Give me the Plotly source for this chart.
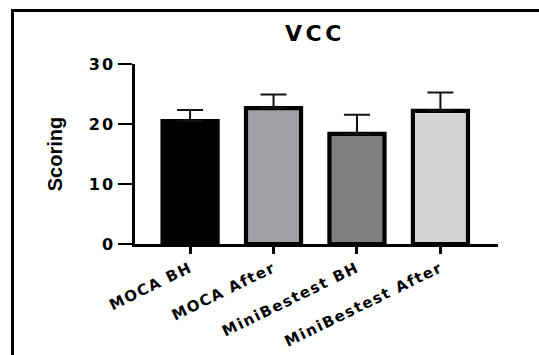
import plotly.graph_objects as go

categories = ["MOCA BH", "MOCA After", "MiniBestest BH", "MiniBestest After"]
means = [20.5, 22.65, 18.35, 22.2]
errors_up = [1.85, 2.25, 3.2, 3.05]
bar_colors = ["#000000", "#A0A0A4", "#808080", "#D4D4D4"]
y_ticks = [0, 10, 20, 30]

W, H = 539, 355
L, R, T, B = 135, 41, 64, 111
pw, ph = W - L - R, H - T - B

def px_x(px):
    return (px - L) / pw

def px_y(py):
    return (H - B - py) / ph

def spaced(s, sp):
    return f'<span style="letter-spacing:{sp}px">{s}</span>'

fig = go.Figure()
fig.add_trace(go.Bar(
    x=list(range(len(categories))),
    y=means,
    width=0.66,
    marker=dict(color=bar_colors, line=dict(color="#000000", width=4.2)),
    error_y=dict(type="data", symmetric=False, array=errors_up,
                 arrayminus=[0] * len(means), color="#111111",
                 thickness=2, width=13),
    showlegend=False,
))

fig.update_layout(
    width=W, height=H,
    margin=dict(l=L, r=R, t=T, b=B, autoexpand=False),
    paper_bgcolor="#FFFFFF", plot_bgcolor="#FFFFFF",
    title=dict(text="<b>" + spaced("VCC", 3.5) + "</b>", x=px_x(315), xref="paper", xanchor="center",
               y=1 - 33 / H, yanchor="middle",
               font=dict(family="DejaVu Sans, Arial, sans-serif", size=22, color="#000000")),
    xaxis=dict(
        range=[-0.66, 3.69],
        tickmode="array", tickvals=list(range(len(categories))),
        ticktext=[spaced(c, 1.5) for c in categories],
        tickangle=-26, tickfont=dict(family="DejaVu Sans, Arial, sans-serif", size=15, color="#000000", weight="bold"),
        ticks="outside", ticklen=7, tickwidth=2.5, tickcolor="#000000",
        showline=True, linecolor="#000000", linewidth=2.5,
        showgrid=False, zeroline=False, fixedrange=True,
    ),
    yaxis=dict(
        range=[0, 30],
        tickmode="array", tickvals=y_ticks, ticktext=[spaced(str(v), 2) for v in y_ticks],
        tickfont=dict(family="DejaVu Sans, Arial, sans-serif", size=16, color="#000000", weight="bold"),
        ticks="outside", ticklen=14, tickwidth=2, tickcolor="#000000",
        showline=True, linecolor="#000000", linewidth=2.5,
        showgrid=False, zeroline=False, fixedrange=True,
        title=dict(text="<b>Scoring</b>", standoff=21,
                   font=dict(family="Liberation Sans Narrow, Liberation Sans, Arial, sans-serif", size=20, color="#000000")),
    ),
    shapes=[dict(type="path", xref="paper", yref="paper",
                 path=f"M {px_x(12.5)} {px_y(360)} L {px_x(12.5)} {px_y(10.5)} L {px_x(542)} {px_y(10.5)}",
                 line=dict(color="#000000", width=3))],
)

fig.write_html("out.html", config={"displayModeBar": False},
               post_script="document.body.style.margin='0';document.body.style.overflow='hidden';")
